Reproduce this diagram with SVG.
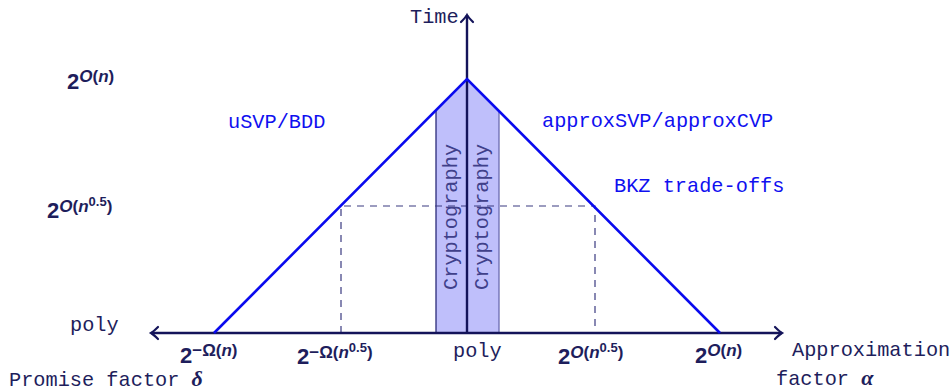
<svg xmlns="http://www.w3.org/2000/svg" width="951" height="391" viewBox="0 0 951 391">
<style>
.tt{font-family:"Liberation Mono","DejaVu Sans Mono",monospace;font-size:20.3px}
.nv{fill:#1e1e5c}
.bl{fill:#1010f0}
.m{font-family:"Liberation Sans","DejaVu Sans",sans-serif;font-weight:bold;fill:#1e1e5c;font-size:22px}
.s{font-size:17px}
.ss{font-size:13px}
.i{font-style:italic}
.ax{stroke:#14145a;stroke-width:2.4;fill:none}
.tri{stroke:#0a0aee;stroke-width:2.6;fill:none;stroke-linejoin:miter}
.dash{stroke:#3a3a80;stroke-width:1.2;stroke-dasharray:7,6;fill:none}
.bar{fill:#bfbffb}
.cr{font-family:"Liberation Mono","DejaVu Sans Mono",monospace;font-size:20.3px;fill:#40408a}
</style>
<defs>
<marker id="ah" markerUnits="userSpaceOnUse" markerWidth="16" markerHeight="16" refX="0" refY="0" orient="auto" viewBox="-12 -8 16 16">
<path d="M -7 -6 Q -2.5 -1.5 0 0 Q -2.5 1.5 -7 6" stroke="#14145a" stroke-width="2.2" fill="none" stroke-linecap="round"/>
</marker>
</defs>
<g id="crypto-bars">
<polygon class="bar" points="436,110 467,79 499,111 499,333 436,333"/>
<line x1="436" y1="110" x2="436" y2="333" stroke="#2a2a78" stroke-width="1.3"/>
<line x1="467" y1="79" x2="467" y2="333" stroke="#2a2a78" stroke-width="1.3"/>
<line x1="499" y1="111" x2="499" y2="333" stroke="#6a6ab0" stroke-width="1.3"/>
<text class="cr" transform="translate(457,290) rotate(-90)">Cryptography</text>
<text class="cr" transform="translate(488,290) rotate(-90)">Cryptography</text>
</g>
<g id="dashed-guides">
<polyline class="dash" points="341,333 341,206 595,206 595,333"/>
</g>
<g id="connectors">
<line class="ax" x1="467" y1="333" x2="467" y2="15" marker-end="url(#ah)"/>
<line class="ax" x1="467" y1="333" x2="151" y2="333" marker-end="url(#ah)"/>
<line class="ax" x1="467" y1="333" x2="782" y2="333" marker-end="url(#ah)"/>
<polyline class="tri" points="214,333 467,79 720,333"/>
</g>
<g id="axis-titles">
<text class="tt nv" x="410" y="23">Time</text>
<text class="tt nv" x="9" y="386">Promise factor <tspan font-family="Liberation Serif,serif" font-style="italic" font-weight="bold" font-size="22">δ</tspan></text>
<text class="tt nv" x="792" y="356">Approximation</text>
<text class="tt nv" x="776" y="385">factor <tspan font-family="Liberation Serif,serif" font-style="italic" font-weight="bold" font-size="22">α</tspan></text>
</g>
<g id="region-labels">
<text class="tt bl" x="228" y="128">uSVP/BDD</text>
<text class="tt bl" x="542" y="127">approxSVP/approxCVP</text>
<text class="tt bl" x="614" y="192">BKZ trade-offs</text>
</g>
<g id="y-ticks">
<text class="m" x="67" y="89">2<tspan class="s" dy="-7"><tspan class="i">O</tspan>(<tspan class="i">n</tspan>)</tspan></text>
<text class="m" x="47" y="218">2<tspan class="s" dy="-6"><tspan class="i">O</tspan>(<tspan class="i">n</tspan></tspan><tspan class="ss" dy="-6">0.5</tspan><tspan class="s" dy="6">)</tspan></text>
<text class="tt nv" x="70" y="331">poly</text>
</g>
<g id="x-ticks">
<text class="m" x="180" y="363">2<tspan class="s" dy="-7">−Ω(<tspan class="i">n</tspan>)</tspan></text>
<text class="m" x="297" y="364">2<tspan class="s" dy="-6">−Ω(<tspan class="i">n</tspan></tspan><tspan class="ss" dy="-6">0.5</tspan><tspan class="s" dy="6">)</tspan></text>
<text class="tt nv" x="453" y="357">poly</text>
<text class="m" x="558" y="364">2<tspan class="s" dy="-6"><tspan class="i">O</tspan>(<tspan class="i">n</tspan></tspan><tspan class="ss" dy="-6">0.5</tspan><tspan class="s" dy="6">)</tspan></text>
<text class="m" x="695" y="363">2<tspan class="s" dy="-7"><tspan class="i">O</tspan>(<tspan class="i">n</tspan>)</tspan></text>
</g>
</svg>
